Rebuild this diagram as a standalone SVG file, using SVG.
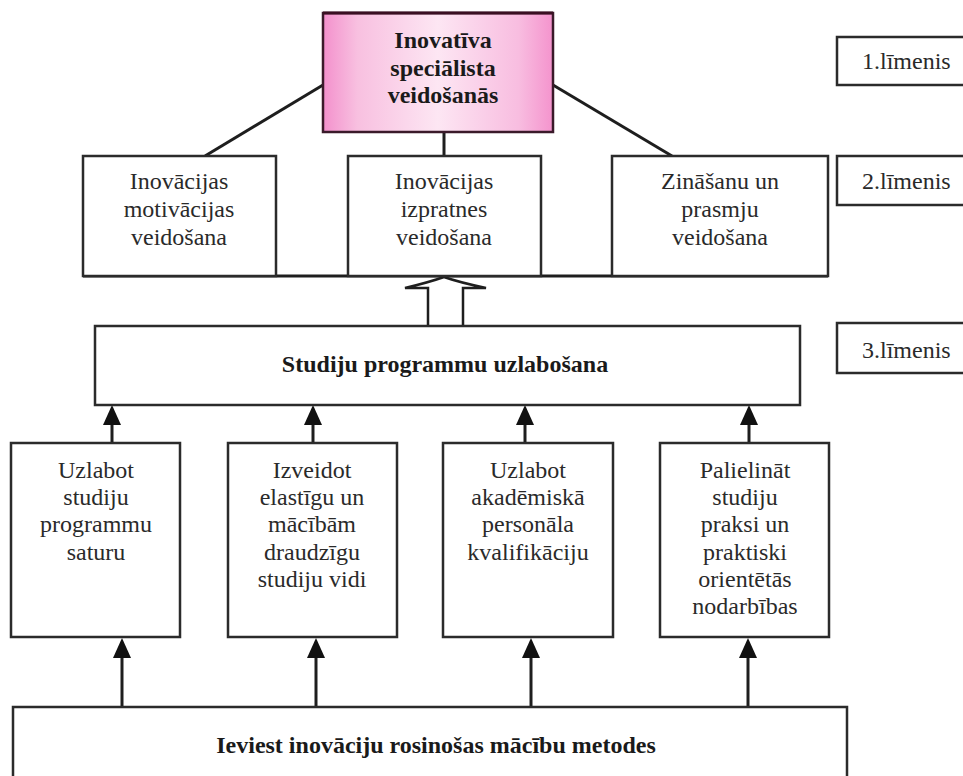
<svg xmlns="http://www.w3.org/2000/svg" width="963" height="776" viewBox="0 0 963 776">
  <style>
    .box { fill: #ffffff; stroke: #2b2b2b; stroke-width: 2.5; }
    .conn { stroke: #1e1e1e; stroke-width: 3; fill: none; }
    .head { fill: #111111; }
    .t { font-family: "Liberation Serif", "Times New Roman", serif; font-size: 24px; font-weight: normal; fill: #2a2a2a; text-anchor: middle; }
    .b { font-weight: bold; fill: #1a1a1a; }
    .lvl { text-anchor: start; }
  </style>
  <defs>
    <linearGradient id="pinkFill" x1="0" y1="0" x2="1" y2="0">
      <stop offset="0" stop-color="#f390cc"/>
      <stop offset="0.15" stop-color="#f8c0e0"/>
      <stop offset="0.5" stop-color="#fde6f3"/>
      <stop offset="0.85" stop-color="#f8bde0"/>
      <stop offset="1" stop-color="#f493cd"/>
    </linearGradient>
    <polygon id="tri" points="0,0 -9,20 9,20"/>
  </defs>

  <rect width="963" height="776" fill="#ffffff"/>

  <!-- connectors -->
  <g id="connectors">
    <line class="conn" x1="323" y1="85" x2="205" y2="156"/>
    <line class="conn" x1="444" y1="132" x2="444" y2="156"/>
    <line class="conn" x1="553" y1="85" x2="672" y2="156"/>
    <line class="conn" x1="83" y1="276" x2="828" y2="276"/>
    <!-- broad hollow arrow into level 2 -->
    <path d="M428,326 V288 H405 Q430,282 444,277 Q458,282 486,288 H463 V326" fill="#ffffff" stroke="#1e1e1e" stroke-width="2.5"/>
    <!-- level 4 to programme box -->
    <line class="conn" x1="112" y1="443" x2="112" y2="420"/>
    <line class="conn" x1="313" y1="443" x2="313" y2="420"/>
    <line class="conn" x1="525" y1="443" x2="525" y2="420"/>
    <line class="conn" x1="749" y1="443" x2="749" y2="420"/>
    <use href="#tri" class="head" x="112" y="405"/>
    <use href="#tri" class="head" x="313" y="405"/>
    <use href="#tri" class="head" x="525" y="405"/>
    <use href="#tri" class="head" x="749" y="405"/>
    <!-- methods box to level 4 -->
    <line class="conn" x1="122" y1="707" x2="122" y2="655"/>
    <line class="conn" x1="316" y1="707" x2="316" y2="655"/>
    <line class="conn" x1="531" y1="707" x2="531" y2="655"/>
    <line class="conn" x1="748" y1="707" x2="748" y2="655"/>
    <use href="#tri" class="head" x="122" y="638"/>
    <use href="#tri" class="head" x="316" y="638"/>
    <use href="#tri" class="head" x="531" y="638"/>
    <use href="#tri" class="head" x="748" y="638"/>
  </g>

  <!-- level 1 -->
  <g id="n-top">
    <rect x="323" y="13" width="230" height="119" fill="url(#pinkFill)" stroke="#3a1a2a" stroke-width="2.5"/>
    <line x1="323" y1="13" x2="553" y2="13" stroke="#3a0f22" stroke-width="3"/>
    <text class="t b" x="443" y="48">Inovatīva</text>
    <text class="t b" x="443" y="76">speciālista</text>
    <text class="t b" x="443" y="103">veidošanās</text>
  </g>

  <!-- level 2 -->
  <g id="n-motivacija">
    <rect class="box" x="83" y="156" width="193" height="120"/>
    <text class="t" x="179" y="189">Inovācijas</text>
    <text class="t" x="179" y="217">motivācijas</text>
    <text class="t" x="179" y="245">veidošana</text>
  </g>
  <g id="n-izpratne">
    <rect class="box" x="348" y="156" width="193" height="120"/>
    <text class="t" x="444" y="189">Inovācijas</text>
    <text class="t" x="444" y="217">izpratnes</text>
    <text class="t" x="444" y="245">veidošana</text>
  </g>
  <g id="n-zinasanas">
    <rect class="box" x="612" y="156" width="216" height="120"/>
    <text class="t" x="720" y="189">Zināšanu un</text>
    <text class="t" x="720" y="217">prasmju</text>
    <text class="t" x="720" y="245">veidošana</text>
  </g>

  <!-- level 3 -->
  <g id="n-programmas">
    <rect class="box" x="95" y="326" width="705" height="79"/>
    <text class="t b" x="445" y="372">Studiju programmu uzlabošana</text>
  </g>

  <!-- level labels -->
  <g id="l1">
    <rect class="box" x="837" y="37" width="130" height="48"/>
    <text class="t lvl" x="862" y="69">1.līmenis</text>
  </g>
  <g id="l2">
    <rect class="box" x="837" y="156" width="130" height="49"/>
    <text class="t lvl" x="862" y="189">2.līmenis</text>
  </g>
  <g id="l3">
    <rect class="box" x="837" y="323" width="130" height="50"/>
    <text class="t lvl" x="862" y="358">3.līmenis</text>
  </g>

  <!-- level 4 -->
  <g id="n-saturs">
    <rect class="box" x="11" y="443" width="169" height="194"/>
    <text class="t" x="96" y="478">Uzlabot</text>
    <text class="t" x="96" y="505">studiju</text>
    <text class="t" x="96" y="532">programmu</text>
    <text class="t" x="96" y="560">saturu</text>
  </g>
  <g id="n-vide">
    <rect class="box" x="228" y="443" width="169" height="194"/>
    <text class="t" x="312" y="478">Izveidot</text>
    <text class="t" x="312" y="505">elastīgu un</text>
    <text class="t" x="312" y="532">mācībām</text>
    <text class="t" x="312" y="560">draudzīgu</text>
    <text class="t" x="312" y="587">studiju vidi</text>
  </g>
  <g id="n-personals">
    <rect class="box" x="443" y="443" width="170" height="194"/>
    <text class="t" x="528" y="478">Uzlabot</text>
    <text class="t" x="528" y="505">akadēmiskā</text>
    <text class="t" x="528" y="532">personāla</text>
    <text class="t" x="528" y="560">kvalifikāciju</text>
  </g>
  <g id="n-prakse">
    <rect class="box" x="660" y="443" width="169" height="194"/>
    <text class="t" x="745" y="478">Palielināt</text>
    <text class="t" x="745" y="505">studiju</text>
    <text class="t" x="745" y="532">praksi un</text>
    <text class="t" x="745" y="560">praktiski</text>
    <text class="t" x="745" y="587">orientētās</text>
    <text class="t" x="745" y="614">nodarbības</text>
  </g>

  <!-- base -->
  <g id="n-metodes">
    <rect class="box" x="13" y="707" width="834" height="80"/>
    <text class="t b" x="436" y="753">Ieviest inovāciju rosinošas mācību metodes</text>
  </g>
</svg>
